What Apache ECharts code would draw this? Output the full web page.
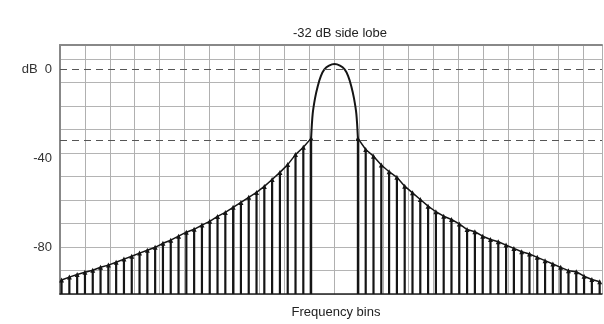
<!DOCTYPE html>
<html>
<head>
<meta charset="utf-8">
<script src="https://cdn.jsdelivr.net/npm/echarts@6/dist/echarts.min.js"></script>
<style>
  html, body { margin: 0; padding: 0; background: #fff; }
  #main { width: 604px; height: 324px; }
</style>
</head>
<body>
<div id="main"></div>
<script>
// side lobe levels (dB), left side from bin -35 up to -3, right side from bin 3 to 34
var leftFirstBin = -35;
var leftDb = [-94.7, -93.4, -92.2, -91.2, -90.3, -89, -88, -86.7, -85.3, -84, -82.6,
  -81.3, -80, -78.2, -76.8, -75, -73.2, -71.9, -70, -68.3, -66.1, -64.3, -62, -59.8,
  -57.5, -55.3, -52.6, -49.5, -46.3, -42.8, -38.3, -35, -31];
var rightFirstBin = 3;
var rightDb = [-31, -36, -39, -43, -46, -48.5, -52.5, -55.5, -58.5, -61.5, -64, -66,
  -67.5, -69.5, -72, -73, -75, -76.5, -77.5, -79, -80.5, -82, -83, -84.5, -86, -87.5,
  -89, -90.5, -91, -93, -94.5, -95.5];
// main lobe outline
var lobeBins = [-3, -2.8, -2.5, -2.15, -1.75, -1.3, -0.7, 0, 0.7, 1.3, 1.75, 2.15, 2.5, 2.8, 3];
var lobeDb = [-31, -20, -13, -7.5, -3, 0, 1.7, 2.4, 1.7, 0, -3, -7.5, -13, -20, -31];
// reference levels (dashed) and tick labels
var refLevels = [0, -32];
var yTicks = [0, -40, -80];
var yMin = -101, yMax = 11;

var chart = echarts.init(document.getElementById('main'));

function pairs(first, vals) {
  var out = [];
  for (var i = 0; i < vals.length; i++) out.push([first + i, vals[i]]);
  return out;
}
var leftData = pairs(leftFirstBin, leftDb);
var rightData = pairs(rightFirstBin, rightDb);
var lobeData = lobeBins.map(function (b, i) { return [b, lobeDb[i]]; });

function stem(params, api) {
  var top = api.coord([api.value(0), api.value(1)]);
  var base = api.coord([api.value(0), yMin]);
  return {
    type: 'line',
    shape: { x1: top[0], y1: top[1], x2: base[0], y2: base[1] },
    style: { stroke: '#151515', lineWidth: 2.2 }
  };
}

var font = 'Liberation Sans, Arial, sans-serif';

chart.setOption({
  animation: false,
  title: {
    text: '-32 dB side lobe',
    left: 335, top: 22, textAlign: 'center',
    textStyle: { fontFamily: font, fontSize: 13, fontWeight: 'normal', color: '#222' }
  },
  grid: { left: 60, right: 2, top: 45, bottom: 29 },
  xAxis: [
    {
      type: 'value', min: -35.2, max: 34.3,
      axisLine: { show: true, onZero: false, lineStyle: { color: '#222', width: 1.5 } },
      axisTick: { show: false }, axisLabel: { show: false }, splitLine: { show: false },
      name: 'Frequency bins', nameLocation: 'middle', nameGap: 12,
      nameTextStyle: { fontFamily: font, fontSize: 13, color: '#222', padding: [0, 0, 0, 10] }
    },
    {
      type: 'value', min: 0, max: 21.77, interval: 1, position: 'top',
      axisLine: { show: true, onZero: false, lineStyle: { color: '#888', width: 2 } },
      axisTick: { show: false }, axisLabel: { show: false },
      splitLine: { show: true, lineStyle: { color: '#b0b0b0', width: 1 } }
    }
  ],
  yAxis: [
    {
      type: 'value', min: yMin, max: yMax,
      axisLine: { show: true, onZero: false, lineStyle: { color: '#888', width: 2 } },
      axisTick: { show: false }, splitLine: { show: false },
      axisLabel: {
        customValues: yTicks, margin: 8, fontFamily: font, fontSize: 13, color: '#333',
        formatter: function (v) { return v === 0 ? 'dB  0' : String(v); }
      }
    },
    {
      type: 'value', min: 0, max: 10.6, interval: 1, position: 'right',
      axisLine: { show: false, onZero: false }, axisTick: { show: false }, axisLabel: { show: false },
      splitLine: { show: true, lineStyle: { color: '#b4b4b4', width: 1 } }
    }
  ],
  series: [
    {
      type: 'custom', xAxisIndex: 0, yAxisIndex: 0, renderItem: stem,
      data: leftData.concat(rightData), z: 3
    },
    {
      type: 'line', xAxisIndex: 0, yAxisIndex: 0, data: leftData,
      symbol: 'triangle', symbolSize: 5, itemStyle: { color: '#151515' },
      lineStyle: { color: '#151515', width: 1.5 }, z: 4
    },
    {
      type: 'line', xAxisIndex: 0, yAxisIndex: 0, data: rightData,
      symbol: 'triangle', symbolSize: 5, itemStyle: { color: '#151515' },
      lineStyle: { color: '#151515', width: 1.5 }, z: 4
    },
    {
      type: 'line', xAxisIndex: 0, yAxisIndex: 0, data: lobeData,
      smooth: 0.3, showSymbol: false,
      lineStyle: { color: '#151515', width: 2 }, z: 4,
      markLine: {
        silent: true, symbol: 'none', label: { show: false },
        lineStyle: { color: '#555', width: 1.2, type: [7, 5] },
        data: refLevels.map(function (v) { return { yAxis: v }; })
      }
    }
  ]
});
</script>
</body>
</html>
